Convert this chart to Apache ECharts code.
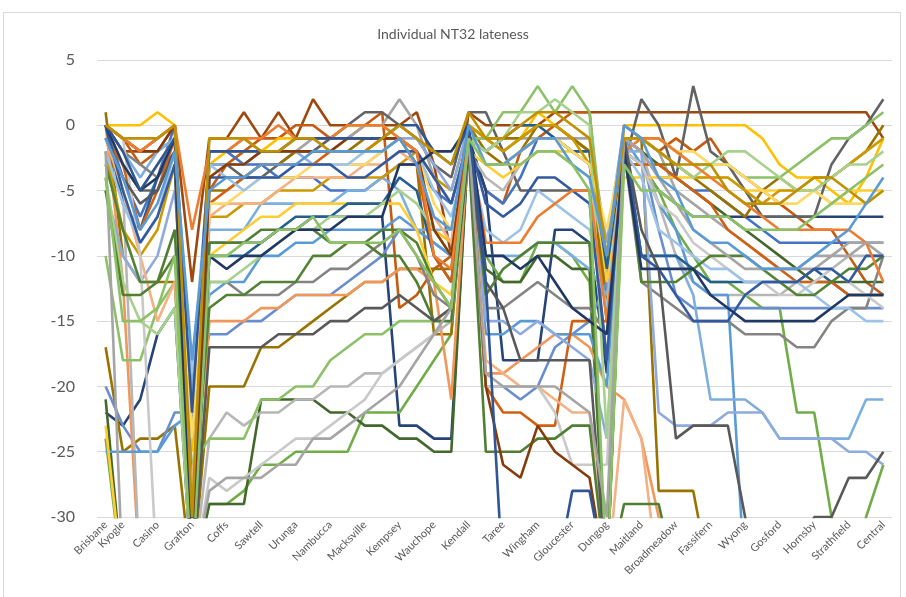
<!DOCTYPE html>
<html>
<head>
    <meta charset="utf-8">
    <title>Individual NT32 lateness</title>
    <style>
        body{ margin: 0; background: #fff; }
        #chart{ width: 906px; height: 597px; }
    </style>
    <script src="https://cdn.jsdelivr.net/npm/echarts@6/dist/echarts.min.js"></script>
</head>
<body>
<div id="chart"></div>
<script>
    // timing points, only every other one is named on the axis
    var stations = ['Brisbane','Kyogle','','Casino','','Grafton','','Coffs','','Sawtell','','Urunga','','Nambucca','','Macksville','','Kempsey','','Wauchope','','Kendall','','Taree','','Wingham','','Gloucester','','Dungog','','Maitland','','Broadmeadow','','Fassifern','','Wyong','','Gosford','','Hornsby','','Strathfield','','Central'];
    var yTicks = { min: -30, max: 5, step: 5 };

    // minutes early(+)/late(-) for each run
    var run01 = [0,-2,-2,-1,0,-12,-1,-1,1,-1,1,-1,2,0,0,0,0,0,1,-3,-10,1,0,0,0,0,1,1,1,1,1,1,1,1,1,1,1,1,1,1,1,1,1,1,1,-1];
    var run02 = [0,-1,-3,-2,0,-35,-5,-3,-2,-1,-1,0,0,-1,-1,0,1,-14,-13,-11,-10,-1,-5,-6,-2,-1,0,1,1,-13,0,-1,-2,-1,-2,-1,-3,-4,-5,-6,-7,-8,-8,-10,-12,-13];
    var run03 = [0,0,0,1,0,-25,-3,-2,-2,-2,-1,-1,-1,-1,0,0,0,-1,-2,-8,-9,0,-1,-2,-1,1,0,-1,-2,-15,0,0,0,0,0,0,0,0,-1,-3,-4,-4,-5,-6,-4,-1];
    var run04 = [0,-4,-7,-4,0,-24,-2,-2,-3,-3,-4,-4,-4,-5,-5,-5,-4,-3,-3,-5,-6,-1,-5,-6,-4,-1,-1,-2,-3,-12,-1,-2,-4,-4,-5,-5,-6,-7,-8,-9,-9,-9,-9,-9,-9,-9];
    var run05 = [-22,-23,-21,-16,-14,-35,-9,-9,-9,-9,-8,-8,-7,-7,-7,-7,-7,-23,-23,-24,-24,-1,-5,-18,-18,-18,-8,-8,-9,-19,-3,-3,-5,-6,-7,-7,-7,-7,-7,-7,-7,-7,-7,-7,-7,-7];
    var run06 = [-24,-35,-35,-35,-35,-35,-29,-29,-28,-26,-26,-25,-25,-25,-25,-22,-22,-22,-20,-18,-16,-1,-10,-12,-12,-9,-9,-10,-12,-35,-2,-3,-5,-8,-10,-12,-12,-13,-14,-14,-22,-22,-30,-35,-30,-26];
    var run07 = [0,-1,-2,-2,-1,-22,-2,-2,-1,-2,-2,-2,-1,-1,-1,0,0,2,0,-4,-6,-1,-1,-2,-1,-1,-1,-1,-1,-9,0,-1,-2,-5,-6,-7,-8,-9,-10,-11,-11,-11,-10,-9,-9,-10];
    var run08 = [0,-3,-5,-5,-2,-30,-3,-3,-4,-4,-3,-2,-2,-1,0,1,1,0,-1,-3,-4,1,1,-2,-5,-5,-5,-5,-5,-18,-3,2,0,-4,3,-2,-3,-5,-7,-7,-7,-7,-3,-1,0,2];
    var run09 = [1,-10,-12,-12,-12,-35,-5,-5,-4,-3,-3,-2,-2,-2,-2,-1,-1,-1,-3,-16,-16,0,-1,-1,-1,0,0,-1,-2,-14,-1,-1,-28,-28,-28,-35,-35,-35,-35,-35,-35,-35,-35,-35,-35,-35];
    var run10 = [-17,-25,-24,-24,-23,-35,-20,-20,-20,-17,-17,-16,-15,-14,-13,-12,-12,-11,-11,-11,-11,0,-2,-3,-2,0,0,-1,-2,-15,-2,-3,-3,-3,-4,-5,-6,-7,-5,-4,-5,-5,-4,-3,-2,0];
    var run11 = [-20,-23,-25,-25,-22,-22,-16,-16,-15,-15,-14,-13,-13,-13,-12,-11,-10,-8,-8,-9,-10,-2,-20,-20,-21,-20,-17,-16,-15,-12,-1,-2,-8,-13,-14,-14,-14,-14,-14,-14,-14,-14,-14,-14,-14,-14];
    var run12 = [-21,-35,-35,-35,-35,-35,-29,-29,-29,-21,-21,-21,-21,-22,-22,-23,-23,-24,-24,-25,-25,-1,-11,-12,-12,-10,-10,-11,-11,-35,-1,-2,-3,-4,-5,-6,-7,-8,-9,-10,-11,-12,-12,-12,-12,-12];
    var run13 = [0,-12,-35,-35,-35,-35,-15,-15,-15,-14,-14,-13,-13,-13,-13,-12,-12,-11,-11,-12,-21,-1,-19,-19,-18,-17,-16,-16,-17,-20,-21,-24,-30,-35,-35,-35,-35,-35,-35,-35,-35,-35,-35,-35,-35,-35];
    var run14 = [-3,-5,-35,-35,-35,-35,-24,-22,-23,-22,-22,-21,-21,-20,-20,-19,-19,-18,-17,-16,-15,-2,-4,-5,-3,-2,-2,-3,-4,-11,-1,-2,-6,-10,-12,-13,-13,-13,-13,-13,-12,-12,-11,-10,-10,-10];
    var run15 = [-10,-18,-18,-14,-12,-26,-24,-24,-24,-21,-21,-20,-20,-18,-17,-16,-16,-15,-15,-15,-14,-1,-1,1,1,3,1,3,1,-11,-1,-1,-1,-2,-3,-3,-3,-4,-4,-4,-3,-2,-1,-1,0,1];
    var run16 = [-25,-25,-25,-25,-23,-22,-13,-12,-12,-10,-10,-9,-9,-8,-8,-8,-8,-7,-8,-9,-10,-2,-16,-16,-15,-15,-16,-16,-16,-20,-1,-3,-6,-8,-12,-13,-13,-35,-35,-35,-35,-35,-35,-35,-35,-35];
    var run17 = [0,-2,-4,-2,-1,-20,-8,-8,-8,-6,-6,-6,-6,-6,-5,-5,-4,-5,-8,-8,-8,-2,-10,-10,-10,-9,-9,-10,-11,-13,-2,-10,-10,-10,-13,-21,-21,-21,-22,-24,-24,-24,-24,-24,-21,-21];
    var run18 = [-23,-35,-35,-35,-35,-35,-10,-9,-8,-7,-7,-6,-6,-6,-6,-6,-6,-6,-8,-12,-13,-2,-3,-4,-3,-2,-2,-2,-2,-12,-4,-4,-4,-4,-4,-4,-4,-5,-5,-5,-5,-5,-6,-5,-5,-5];
    var run19 = [0,-6,-8,-4,-2,-32,-10,-10,-10,-9,-8,-7,-7,-7,-6,-6,-6,-4,-5,-10,-12,-1,-2,-1,0,0,-1,-2,-2,-11,-1,-10,-10,-10,-11,-12,-12,-12,-12,-12,-12,-11,-12,-13,-13,-13];
    var run20 = [-1,-3,-8,-5,-1,-35,-6,-5,-4,-3,-3,-3,-3,-2,-2,-2,-1,-1,-3,-10,-12,-1,-20,-22,-22,-23,-23,-15,-15,-15,-3,-3,-3,-4,-5,-6,-8,-9,-10,-11,-12,-12,-12,-13,-13,-13];
    var run21 = [0,-2,-3,-4,-1,-28,-12,-12,-13,-13,-13,-12,-12,-11,-11,-10,-9,-8,-10,-13,-14,-2,-14,-14,-13,-12,-13,-14,-14,-16,-2,-12,-13,-14,-15,-15,-15,-16,-16,-16,-17,-17,-15,-14,-14,-10];
    var run22 = [-2,-8,-10,-8,-3,-35,-7,-7,-6,-6,-5,-5,-5,-4,-4,-4,-4,-3,-2,-4,-5,0,-1,-2,-1,0,0,-1,-3,-10,-1,-1,-2,-3,-4,-4,-4,-5,-6,-5,-5,-4,-4,-3,-2,-1];
    var run23 = [-5,-10,-12,-10,-5,-22,-3,-3,-3,-2,-2,-2,-3,-3,-3,-3,-2,-1,-1,-3,-5,0,-15,-15,-16,-15,-16,-17,-18,-24,-2,-2,-22,-23,-23,-23,-22,-22,-22,-24,-24,-24,-24,-25,-25,-26];
    var run24 = [-1,-5,-10,-15,-12,-28,-7,-6,-6,-6,-5,-4,-4,-4,-4,-3,-3,-2,-3,-7,-9,-1,-18,-19,-20,-20,-21,-22,-22,-35,-21,-24,-35,-35,-35,-35,-35,-35,-35,-35,-35,-35,-35,-35,-35,-35];
    var run25 = [0,-1,-10,-35,-35,-35,-27,-28,-27,-26,-25,-24,-24,-23,-22,-21,-19,-18,-17,-16,-14,-1,-20,-20,-20,-20,-22,-26,-26,-26,-2,-3,-6,-7,-9,-10,-11,-12,-12,-13,-13,-12,-11,-12,-13,-14];
    var run26 = [0,-3,-5,-3,-1,-24,-6,-6,-5,-4,-4,-4,-3,-3,-3,-3,-2,-1,-2,-6,-8,-1,-3,-3,-2,-1,-1,-2,-3,-8,-1,-1,-1,-2,-2,-3,-3,-4,-5,-6,-6,-5,-6,-6,-6,-5];
    var run27 = [-2,-6,-9,-7,-2,-19,-3,-4,-5,-4,-4,-3,-3,-3,-3,-2,-2,-1,-2,-5,-7,-2,-8,-9,-8,-5,-6,-7,-8,-14,-2,-4,-8,-9,-10,-11,-11,-12,-12,-12,-12,-13,-14,-14,-15,-15];
    var run28 = [-4,-12,-15,-16,-14,-35,-12,-12,-11,-10,-9,-8,-8,-7,-7,-7,-6,-5,-6,-8,-10,-1,-2,-1,1,1,2,1,0,-24,-1,-1,-2,-3,-4,-3,-2,-2,-3,-4,-5,-5,-4,-3,-3,-2];
    var run29 = [-3,-8,-12,-12,-10,-30,-14,-13,-13,-12,-12,-12,-10,-10,-9,-9,-8,-8,-9,-12,-14,-1,-13,-11,-10,-9,-9,-9,-9,-35,-1,-12,-12,-12,-11,-10,-10,-10,-11,-12,-13,-13,-12,-11,-11,-10];
    var run30 = [0,-5,-9,-7,-3,-35,-4,-4,-4,-4,-4,-3,-3,-3,-4,-4,-3,-2,-2,-4,-6,-1,-6,-7,-6,-4,-4,-5,-6,-18,-1,-10,-11,-13,-15,-15,-15,-13,-12,-12,-12,-11,-11,-12,-10,-10];
    var run31 = [-5,-13,-13,-12,-8,-35,-9,-9,-9,-8,-8,-8,-8,-9,-9,-9,-10,-10,-12,-15,-15,-2,-25,-25,-25,-24,-24,-23,-23,-35,-29,-29,-29,-35,-35,-35,-35,-35,-35,-35,-35,-35,-35,-35,-35,-35];
    var run32 = [0,-1,-2,-2,0,-35,-4,-3,-3,-2,-2,-2,-2,-2,-1,-1,-1,-1,-2,-8,-10,0,-20,-26,-27,-23,-25,-26,-27,-35,-35,-35,-35,-35,-35,-35,-35,-35,-35,-35,-35,-35,-35,-35,-35,-35];
    var run33 = [0,-1,-2,-1,0,-8,-2,-2,-1,-1,0,-1,-1,-1,0,0,0,-1,-2,-10,-11,-1,-9,-9,-9,-7,-6,-5,-5,-15,-2,-1,-1,-2,-3,-4,-5,-6,-7,-8,-8,-8,-8,-8,-9,-12];
    var run34 = [-1,-4,-6,-5,-2,-35,-17,-17,-17,-17,-16,-16,-16,-15,-15,-14,-14,-13,-14,-15,-14,-2,-12,-14,-18,-18,-18,-18,-18,-35,-1,-8,-11,-24,-23,-23,-23,-30,-35,-35,-35,-30,-30,-27,-27,-25];
    var run35 = [0,-3,-5,-4,-1,-35,-10,-11,-10,-10,-9,-8,-8,-8,-7,-7,-7,-3,-3,-2,-2,0,-10,-10,-11,-10,-12,-14,-15,-16,-2,-11,-11,-11,-11,-13,-14,-15,-15,-15,-15,-15,-14,-13,-13,-13];
    var run36 = [-2,-35,-35,-35,-35,-35,-28,-27,-27,-27,-26,-26,-24,-24,-23,-22,-21,-20,-18,-16,-14,-1,-19,-20,-20,-20,-20,-21,-22,-30,-1,-2,-4,-6,-8,-9,-10,-11,-11,-11,-11,-10,-10,-10,-9,-9];
    var run37 = [0,-2,-5,-3,-1,-22,-2,-2,-2,-2,-2,-1,-1,-1,-1,-1,-1,0,0,-2,-3,0,-12,-35,-35,-35,-35,-28,-28,-35,-35,-35,-35,-35,-35,-35,-35,-35,-35,-35,-35,-35,-35,-35,-35,-35];
    var run38 = [0,-1,-1,-1,0,-30,-1,-1,-1,-2,-2,-1,-1,-2,-2,-2,-1,0,-1,-2,-3,1,-1,-1,0,1,1,0,-1,-10,-1,-1,-2,-3,-3,-3,-5,-6,-6,-6,-5,-4,-4,-5,-6,-5];
    var run39 = [-1,-4,-8,-6,-2,-18,-5,-4,-4,-3,-3,-3,-2,-2,-2,-2,-2,-1,-3,-7,-8,0,-3,-3,-2,-1,-1,-3,-4,-10,0,-1,-4,-5,-8,-9,-9,-10,-11,-11,-11,-10,-9,-8,-6,-4];
    var run40 = [-4,-15,-15,-14,-10,-35,-10,-10,-9,-9,-8,-8,-7,-9,-9,-9,-9,-8,-10,-12,-14,-1,-3,-3,-3,-2,-2,-3,-5,-35,-3,-5,-5,-6,-7,-7,-7,-8,-8,-8,-8,-7,-6,-5,-4,-3];

    var runs = [run01,run02,run03,run04,run05,run06,run07,run08,run09,run10,
                run11,run12,run13,run14,run15,run16,run17,run18,run19,run20,
                run21,run22,run23,run24,run25,run26,run27,run28,run29,run30,
                run31,run32,run33,run34,run35,run36,run37,run38,run39,run40];

    // office-like palette, one per run
    var lineColors = ['#9E480E','#C55A11','#FFC000','#4472C4','#264478','#70AD47','#A5A5A5','#636363','#997300','#997300',
                      '#698ED0','#43682B','#F1975A','#B7B7B7','#8CC168','#5B9BD5','#7CAFDD','#FFCD33','#255E91','#D26012',
                      '#848484','#CC9A00','#8FAADC','#F4B183','#C9C9C9','#FFD966','#9DC3E6','#A9D18E','#548235','#335AA1',
                      '#507E32','#843C0C','#ED7D31','#595959','#203864','#A5A5A5','#2F5597','#BF9000','#5B9BD5','#8CC168'];

    var series = [];
    for (var i = 0; i < runs.length; i++) {
        series.push({
            type: 'line',
            data: runs[i],
            symbol: 'none',
            clip: true,
            lineStyle: { width: 2.6, color: lineColors[i % lineColors.length] },
            itemStyle: { color: lineColors[i % lineColors.length] },
            animation: false
        });
    }

    var font = 'Lato, "Open Sans", sans-serif';
    var chart = echarts.init(document.getElementById('chart'));
    chart.setOption({
        animation: false,
        backgroundColor: '#fff',
        title: {
            text: 'Individual NT32 lateness',
            left: 'center',
            top: 22,
            textStyle: { fontFamily: font, fontSize: 14, fontWeight: 'normal', color: '#595959' }
        },
        graphic: [{
            type: 'rect',
            shape: { x: 3.5, y: 12.5, width: 897, height: 600 },
            style: { fill: 'none', stroke: '#D9D9D9', lineWidth: 1 },
            silent: true
        }],
        grid: { left: 97, right: 14, top: 60, bottom: 80, containLabel: false },
        xAxis: {
            type: 'category',
            data: stations,
            boundaryGap: true,
            axisLine: { show: true, lineStyle: { color: '#D9D9D9' } },
            axisTick: { show: false },
            axisLabel: { interval: 0, rotate: 45, fontFamily: font, fontSize: 11, color: '#595959', margin: 6 }
        },
        yAxis: {
            type: 'value',
            min: yTicks.min,
            max: yTicks.max,
            interval: yTicks.step,
            axisLine: { show: false },
            axisTick: { show: false },
            splitLine: { lineStyle: { color: '#D9D9D9' } },
            axisLabel: { fontFamily: font, fontSize: 16, color: '#595959', margin: 22 }
        },
        series: series
    });
</script>
</body>
</html>
